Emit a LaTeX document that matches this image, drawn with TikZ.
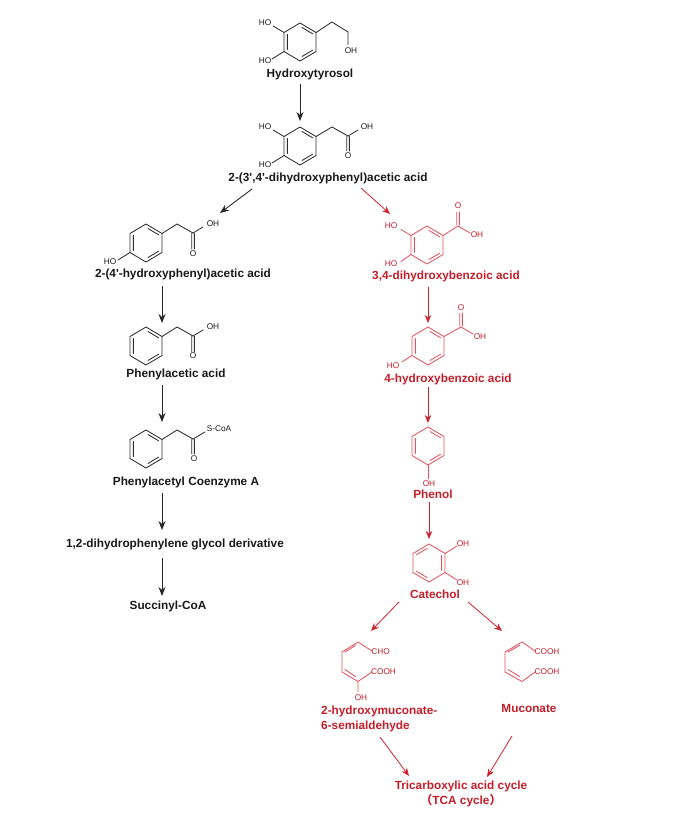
\documentclass[tikz,border=0pt]{standalone}
\usepackage{fontspec}
\usetikzlibrary{arrows.meta}
\setmainfont{Liberation Sans}
\newfontfamily\labfont{Liberation Sans}
\newfontfamily\cjkparen{Noto Sans CJK SC}
\definecolor{redtext}{RGB}{196,30,42}
\definecolor{redbond}{RGB}{224,86,96}
\definecolor{redarrow}{RGB}{205,35,45}
\definecolor{blackbond}{RGB}{45,45,45}
\tikzset{
  x=1pt,y=-1pt,
  bond/.style={line width=0.85pt,line cap=round,line join=round},
  atom/.style={font=\fontsize{8.3}{9}\selectfont,inner sep=0pt},
  cname/.style={font=\fontsize{11.8}{15}\labfont\bfseries,inner sep=0pt,align=center,yshift=-1.5pt},
  blk/.style={text=black!90,draw=none},
  rd/.style={text=redtext,draw=none},
  arrowk/.style={line width=0.9pt,black!85,-{Stealth[length=9pt,width=7pt]}},
  arrowr/.style={line width=0.8pt,redarrow,-{Stealth[length=8pt,width=6.5pt]}},
}
\newcommand{\hexring}[3]{%
  \begin{scope}[shift={(#1,#2)}]
    \draw[bond,#3] (0,-19)--(16,-9.5)--(16,9.5)--(0,19)--(-16,9.5)--(-16,-9.5)--cycle;
    \draw[bond,#3] (-12.6,-7.5)--(-12.6,7.5) (2,-14.5)--(12.6,-8.2) (12.6,8.2)--(2,14.5);
  \end{scope}}
\newcommand{\hexringB}[3]{%
  \begin{scope}[shift={(#1,#2)}]
    \draw[bond,#3] (0,-19)--(16,-9.5)--(16,9.5)--(0,19)--(-16,9.5)--(-16,-9.5)--cycle;
    \draw[bond,#3] (12.6,-7.5)--(12.6,7.5) (-2,-14.5)--(-12.6,-8.2) (-12.6,8.2)--(-2,14.5);
  \end{scope}}
\begin{document}
\begin{tikzpicture}
\useasboundingbox (0,0) rectangle (688,813);

%% ---------- black molecules ----------
\hexring{300}{42}{blackbond}
\draw[bond,blackbond] (284,32.5)--(273,26) (284,51.5)--(272,59)
  (316,32.5)--(332,22)--(348,32)--(348,45);
\node[atom,blk] (m1a) at (265,23) {HO};
\node[atom,blk] (m1b) at (265,61) {HO};
\node[atom,blk] (m1c) at (351,51) {OH};
\node[cname,blk] (n1) at (310,73) {Hydroxytyrosol};

\hexring{300}{146}{blackbond}
\draw[bond,blackbond] (284,136.5)--(273,130) (284,155.5)--(272,163)
  (316,136.5)--(332,127)--(348,136)--(358,130)
  (346.8,136.5)--(346.8,151) (349.4,136.5)--(349.4,151);
\node[atom,blk] (m2a) at (265,127) {HO};
\node[atom,blk] (m2b) at (265,165) {HO};
\node[atom,blk] (m2c) at (367,127) {OH};
\node[atom,blk] (m2d) at (348,156) {O};
\node[cname,blk] (n2) at (328,177) {2-(3',4'-dihydroxyphenyl)acetic acid};

\hexring{146}{243}{blackbond}
\draw[bond,blackbond] (130,252.5)--(118,260)
  (162,233.5)--(177,224)--(193,233)--(203,227)
  (191.8,233.5)--(191.8,249) (194.4,233.5)--(194.4,249);
\node[atom,blk] (m3a) at (110,262) {HO};
\node[atom,blk] (m3c) at (213,224) {OH};
\node[atom,blk] (m3d) at (193,254) {O};
\node[cname,blk] (n3) at (183,273) {2-(4'-hydroxyphenyl)acetic acid};

\hexring{146}{346}{blackbond}
\draw[bond,blackbond]
  (162,336.5)--(177,327)--(193,336)--(203,330)
  (191.8,336.5)--(191.8,352) (194.4,336.5)--(194.4,352);
\node[atom,blk] (m4c) at (213,327) {OH};
\node[atom,blk] (m4d) at (193,356) {O};
\node[cname,blk] (n4) at (176,373) {Phenylacetic acid};

\hexring{146}{449}{blackbond}
\draw[bond,blackbond]
  (162,439.5)--(177,430)--(193,439)--(205,432)
  (191.8,439.5)--(191.8,454) (194.4,439.5)--(194.4,454);
\node[atom,blk] (m5c) at (219,429) {S-CoA};
\node[atom,blk] (m5d) at (194,459) {O};
\node[cname,blk] (n5) at (186,481) {Phenylacetyl Coenzyme A};

\node[cname,blk] (n6) at (175,543) {1,2-dihydrophenylene glycol derivative};
\node[cname,blk] (n7) at (168,605) {Succinyl-CoA};

%% ---------- red molecules ----------
\hexring{427}{245}{redbond}
\draw[bond,redbond] (411,235.5)--(401,229.5) (411,254.5)--(401,261.5)
  (443,235.5)--(458,226)--(470,233)
  (456.8,225)--(456.8,212) (459.4,225)--(459.4,212);
\node[atom,rd] (r1a) at (391,226) {HO};
\node[atom,rd] (r1b) at (391,264) {HO};
\node[atom,rd] (r1c) at (477,235) {OH};
\node[atom,rd] (r1d) at (458,206) {O};
\node[cname,rd] (l1) at (446,275) {3,4-dihydroxybenzoic acid};

\hexring{428}{346}{redbond}
\draw[bond,redbond] (412,355.5)--(402,362)
  (444,336.5)--(461,327)--(473,334)
  (459.8,326)--(459.8,313) (462.4,326)--(462.4,313);
\node[atom,rd] (r2a) at (393,366) {HO};
\node[atom,rd] (r2c) at (480,337) {OH};
\node[atom,rd] (r2d) at (461,308) {O};
\node[cname,rd] (l2) at (448,378) {4-hydroxybenzoic acid};

\hexring{428}{446}{redbond}
\draw[bond,redbond] (428,465)--(428,479);
\node[atom,rd] (r3c) at (429,484) {OH};
\node[cname,rd] (l3) at (433,493) {Phenol};

\hexringB{429}{563}{redbond}
\draw[bond,redbond] (445,553.5)--(457,546) (445,572.5)--(457,580);
\node[atom,rd] (r4a) at (463,544) {OH};
\node[atom,rd] (r4b) at (463,583) {OH};
\node[cname,rd] (l4) at (435,592.5) {Catechol};

\draw[bond,redbond] (372,651)--(358,642)--(342,652)--(342,672)--(358,681.5)--(372,672)
  (358,681.5)--(358,692)
  (355.5,645.5)--(345,652) (345,669.5)--(355.5,676.5);
\node[atom,rd] (r5a) at (380.5,652) {CHO};
\node[atom,rd] (r5b) at (383.5,672) {COOH};
\node[atom,rd] (r5c) at (361,698) {OH};
\node[cname,rd,align=left,anchor=north west] (l5) at (321,704.5) {2-hydroxymuconate-\\6-semialdehyde};

\draw[bond,redbond] (535,651)--(522,642)--(505,652)--(505,672)--(522,681.5)--(535,672)
  (519.5,645.5)--(508,652) (508,669.5)--(519.5,676.5);
\node[atom,rd] (r6a) at (547,652) {COOH};
\node[atom,rd] (r6b) at (547,672) {COOH};
\node[cname,rd] (l6) at (529,707) {Muconate};

\node[cname,rd] (l7) at (461,792.5) {Tricarboxylic acid cycle\\{\cjkparen（}TCA cycle{\cjkparen）}};

%% ---------- connectors ----------
\coordinate (a1s) at (300,84);   \coordinate (a1e) at (300,121);
\coordinate (a2s) at (252,189);  \coordinate (a2e) at (220,213);
\coordinate (a3s) at (361,188);  \coordinate (a3e) at (390,214);
\coordinate (a4s) at (162,286);  \coordinate (a4e) at (162,323);
\coordinate (a5s) at (162,385);  \coordinate (a5e) at (162,422);
\coordinate (a6s) at (162,493);  \coordinate (a6e) at (162,530);
\coordinate (a7s) at (162,558);  \coordinate (a7e) at (162,596);
\coordinate (b1s) at (428,287);  \coordinate (b1e) at (428,323);
\coordinate (b2s) at (428,387);  \coordinate (b2e) at (428,423);
\coordinate (b3s) at (429,502);  \coordinate (b3e) at (429,539);
\coordinate (b4s) at (399,602);  \coordinate (b4e) at (371,631);
\coordinate (b5s) at (468,602);  \coordinate (b5e) at (502,631);
\coordinate (b6s) at (380,737);  \coordinate (b6e) at (409,776);
\coordinate (b7s) at (512,736);  \coordinate (b7e) at (487,777);
\draw[arrowk] (a1s)--(a1e);
\draw[arrowk] (a2s)--(a2e);
\draw[arrowr] (a3s)--(a3e);
\draw[arrowk] (a4s)--(a4e);
\draw[arrowk] (a5s)--(a5e);
\draw[arrowk] (a6s)--(a6e);
\draw[arrowk] (a7s)--(a7e);
\draw[arrowr] (b1s)--(b1e);
\draw[arrowr] (b2s)--(b2e);
\draw[arrowr] (b3s)--(b3e);
\draw[arrowr] (b4s)--(b4e);
\draw[arrowr] (b5s)--(b5e);
\draw[arrowr] (b6s)--(b6e);
\draw[arrowr] (b7s)--(b7e);
\end{tikzpicture}
\end{document}
